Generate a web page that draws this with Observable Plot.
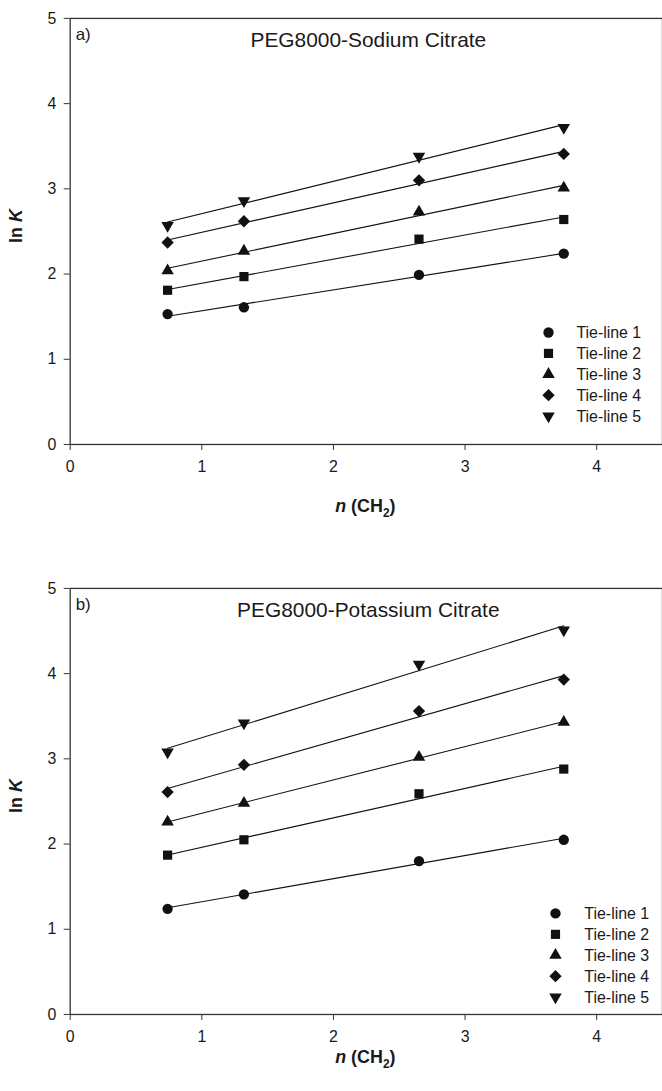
<!DOCTYPE html>
<html>
<head>
<meta charset="utf-8">
<script src="https://cdn.jsdelivr.net/npm/d3@7"></script>
<script src="https://cdn.jsdelivr.net/npm/@observablehq/plot@0.6"></script>
<style>
  html, body { margin: 0; padding: 0; background: #fff; overflow: hidden; width: 662px; }
  #chart { width: 662px; }
  svg { display: block; }
</style>
</head>
<body>
<div id="chart"></div>
<script>
// ---- data ----
const nCH2 = [0.74, 1.32, 2.65, 3.75];
const seriesNames = ["Tie-line 1", "Tie-line 2", "Tie-line 3", "Tie-line 4", "Tie-line 5"];
const xTicks = [0, 1, 2, 3, 4];
const yTicks = [0, 1, 2, 3, 4, 5];

const sodiumTL1 = [1.53, 1.61, 1.99, 2.24];
const sodiumTL2 = [1.81, 1.97, 2.41, 2.64];
const sodiumTL3 = [2.04, 2.27, 2.73, 3.01];
const sodiumTL4 = [2.37, 2.62, 3.10, 3.41];
const sodiumTL5 = [2.57, 2.86, 3.38, 3.72];

const potassiumTL1 = [1.24, 1.41, 1.80, 2.05];
const potassiumTL2 = [1.87, 2.05, 2.59, 2.88];
const potassiumTL3 = [2.26, 2.48, 3.02, 3.43];
const potassiumTL4 = [2.61, 2.93, 3.56, 3.93];
const potassiumTL5 = [3.08, 3.42, 4.11, 4.51];

const panelTitles = ["PEG8000-Sodium Citrate", "PEG8000-Potassium Citrate"];
const panelLetters = ["a)", "b)"];

// ---- symbols ----
const scaled = (sym, k) => ({draw: (ctx, size) => sym.draw(ctx, size * k)});
const triangleDown = {
  draw(ctx, size) {
    const y = -Math.sqrt(size / (Math.sqrt(3) * 3));
    ctx.moveTo(0, -y * 2);
    ctx.lineTo(-Math.sqrt(3) * y, y);
    ctx.lineTo(Math.sqrt(3) * y, y);
    ctx.closePath();
  }
};
const symbols = [
  d3.symbolCircle,
  scaled(d3.symbolSquare, 1.0),
  scaled(d3.symbolTriangle, 0.8),
  scaled(d3.symbolDiamond2, 1.15),
  scaled(triangleDown, 0.8)
];

function toRows(arrs) {
  const rows = [];
  arrs.forEach((vals, i) => vals.forEach((v, j) => rows.push({n: nCH2[j], lnK: v, series: seriesNames[i]})));
  return rows;
}

const panels = [
  {rows: toRows([sodiumTL1, sodiumTL2, sodiumTL3, sodiumTL4, sodiumTL5]), height: 573, xLabelY: 514,
   legend: {mx: 551, tx: 579, y0: 334}},
  {rows: toRows([potassiumTL1, potassiumTL2, potassiumTL3, potassiumTL4, potassiumTL5]), height: 518, xLabelY: 495,
   legend: {mx: 558, tx: 587, y0: 345}}
];

const FONT = "'Liberation Sans', Arial, Helvetica, sans-serif";
const INK = "#1a1a1a";

panels.forEach((p, k) => {
  const chart = Plot.plot({
    width: 665,
    height: p.height,
    marginTop: 18,
    marginBottom: p.height - 446,
    marginLeft: 70,
    marginRight: 0,
    style: {fontFamily: FONT, fontSize: "16px", color: INK, background: "#fff"},
    x: {domain: [0, 4.5], label: null},
    y: {domain: [0, 5], label: null},
    symbol: {domain: seriesNames, range: symbols},
    marks: [
      Plot.frame({stroke: "#333", strokeWidth: 1.3}),
      Plot.linearRegressionY(p.rows, {x: "n", y: "lnK", z: "series", ci: 0, stroke: "#111", strokeWidth: 1.1}),
      Plot.dot(p.rows, {x: "n", y: "lnK", symbol: "series", fill: "#111", stroke: "none", r: 5.2}),
      Plot.axisX({ticks: xTicks, tickSize: 6, tickPadding: 10, stroke: "#333", fontSize: 16, tickFormat: d3.format("d")}),
      Plot.axisY({ticks: yTicks, tickSize: 6, tickPadding: 8, stroke: "#333", fontSize: 16, tickFormat: d3.format("d")})
    ]
  });
  const svg = d3.select(chart);
  svg.style("overflow", "hidden");

  // panel letter and title
  svg.append("text").attr("x", 76).attr("y", 40).attr("text-anchor", "start").attr("font-size", 17)
    .attr("font-family", FONT).attr("fill", INK).text(panelLetters[k]);
  svg.append("text").attr("x", 370).attr("y", 47).attr("text-anchor", "middle").attr("font-size", 21)
    .attr("font-family", FONT).attr("fill", INK).text(panelTitles[k]);

  // y label "ln K"
  const yl = svg.append("text").attr("transform", "translate(22,227) rotate(-90)")
    .attr("text-anchor", "middle").attr("font-size", 18).attr("font-weight", "bold")
    .attr("font-family", FONT).attr("fill", INK);
  yl.append("tspan").text("ln ");
  yl.append("tspan").attr("font-style", "italic").text("K");

  // x label "n (CH2)"
  const xl = svg.append("text").attr("x", 367).attr("y", p.xLabelY).attr("text-anchor", "middle")
    .attr("font-size", 18).attr("font-weight", "bold").attr("font-family", FONT).attr("fill", INK);
  xl.append("tspan").attr("font-style", "italic").text("n");
  xl.append("tspan").text(" (CH");
  xl.append("tspan").attr("font-size", 12).attr("dy", 5).text("2");
  xl.append("tspan").attr("dy", -5).text(")");

  // legend
  const lg = svg.append("g");
  seriesNames.forEach((name, i) => {
    const cy = p.legend.y0 + i * 21;
    lg.append("path").attr("transform", `translate(${p.legend.mx},${cy})`)
      .attr("d", d3.symbol(symbols[i], Math.PI * 5.2 * 5.2)()).attr("fill", "#111");
    lg.append("text").attr("x", p.legend.tx).attr("y", cy).attr("dy", "0.36em").attr("text-anchor", "start")
      .attr("font-size", 16).attr("font-family", FONT).attr("fill", INK).text(name);
  });

  document.getElementById("chart").appendChild(chart);
});
</script>
</body>
</html>
